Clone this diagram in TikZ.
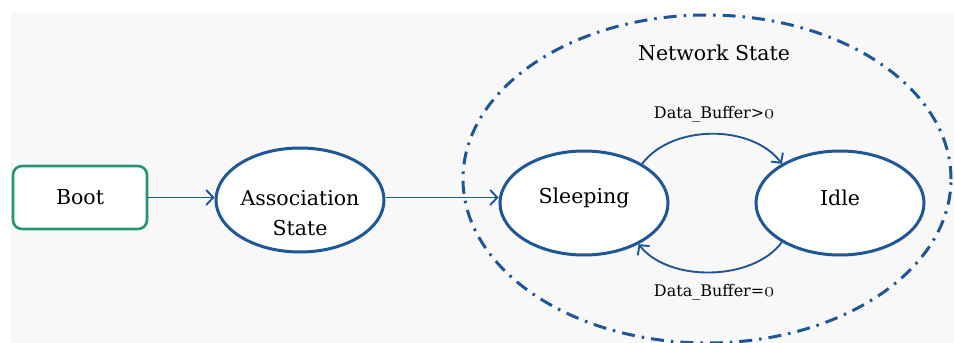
\documentclass[tikz,border=0pt]{standalone}
\usepackage{fontspec}
\usepackage{graphicx}
\setmainfont{DejaVu Serif}
\usetikzlibrary{shapes.geometric,arrows.meta}
\definecolor{stateblue}{RGB}{31,86,150}
\definecolor{bootgreen}{RGB}{36,150,108}
\definecolor{paper}{RGB}{248,248,248}
\newcommand{\oldzero}{\scalebox{1.15}{\usefont{OML}{cmm}{m}{it}0}}
\tikzset{
  statebox/.style={ellipse, draw=stateblue, line width=3pt, fill=white,
    minimum width=168pt, minimum height=104pt, inner sep=0pt},
  statetext/.style={font=\fontsize{20.5}{30}\selectfont, align=center, inner sep=0pt},
  bootbox/.style={rectangle, rounded corners=9pt, draw=bootgreen, line width=2.6pt,
    fill=white, minimum width=134pt, minimum height=63pt, inner sep=0pt,
    font=\fontsize{20.5}{30}\selectfont},
  flow/.style={draw=stateblue, line width=1.9pt,
    -{Straight Barb[length=7pt,width=15pt,line width=1.9pt]}},
  netarea/.style={ellipse, draw=stateblue, line width=3pt,
    dash pattern=on 13pt off 7pt on 2.5pt off 7pt,
    minimum width=488pt, minimum height=328pt, inner sep=0pt},
  cond/.style={font=\fontsize{16}{19}\selectfont, inner sep=0pt}
}
\begin{document}
\begin{tikzpicture}[x=1pt,y=-1pt]
  \useasboundingbox (0,0) rectangle (954,343);
  \fill[white] (0,0) rectangle (954,343);
  \fill[paper] (11,13) rectangle (954,343);

  % enclosing network region
  \begin{scope}
    \clip (0,0) rectangle (954,343);
    \node[netarea] (net) at (707,179) {};
  \end{scope}
  \node[statetext] (netlabel) at (714,53) {Network State};

  % states
  \node[bootbox] (boot) at (80,197.5) {Boot};
  \node[statebox] (assoc) at (300,200) {};
  \node[statetext] (assoctext) at (300,213) {Association\\State};
  \node[statebox] (sl) at (584,203) {};
  \node[statetext] (sltext) at (584,198) {Sleeping};
  \node[statebox] (id) at (840,203) {};
  \node[statetext] (idtext) at (840,198) {Idle};

  % transitions
  \draw[flow] (boot.east) -- (assoc.west |- boot.east);
  \draw[flow] (assoc.east |- boot.east) -- (sl.west |- boot.east);
  \draw[flow] (sl.34) .. controls (672,124) and (752,124) .. (id.146);
  \draw[flow] (id.214) .. controls (752,282) and (668,282) .. (sl.323);

  % transition conditions
  \node[cond] (up) at (714,114) {Data\_Buffer>\oldzero};
  \node[cond] (down) at (714,292) {Data\_Buffer=\oldzero};
\end{tikzpicture}
\end{document}
